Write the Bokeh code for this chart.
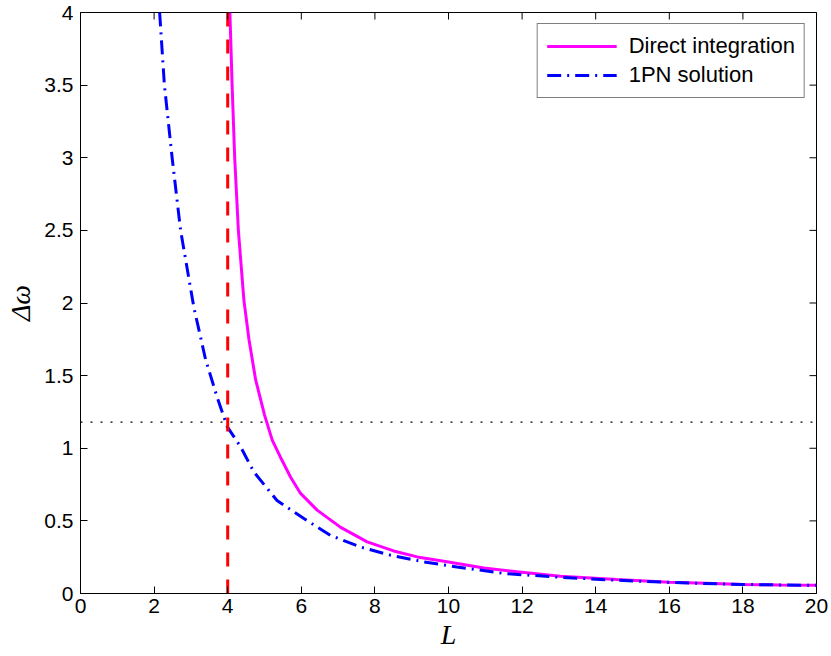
from math import pi
from bokeh.plotting import figure
from bokeh.models import Range1d, FixedTicker
from bokeh.embed import file_html
from bokeh.resources import INLINE

# Direct integration (magenta)
L_direct = [4.06, 4.12, 4.19, 4.29, 4.44, 4.58, 4.76, 5.0, 5.21, 5.43, 5.71, 5.98,
            6.43, 7.07, 7.79, 8.51, 9.15, 9.96, 10.96, 11.87, 13.04, 14.58, 16.0,
            17.0, 18.0, 19.0, 20.0]
dw_direct = [4.0, 3.5, 3.0, 2.5, 2.02, 1.745, 1.47, 1.23, 1.056, 0.94, 0.80, 0.689,
             0.574, 0.455, 0.355, 0.293, 0.252, 0.218, 0.176, 0.149, 0.119, 0.096, 0.078,
             0.070, 0.062, 0.058, 0.057]

# 1PN solution (blue dash-dot)
L_1pn = [2.15, 2.28, 2.49, 2.72, 3.08, 3.40, 3.71, 3.99, 4.35, 4.71, 5.34, 6.07, 6.79,
         7.61, 8.42, 9.33, 10.23, 11.5, 13.0, 14.5, 16.0, 18.0, 20.0]
dw_1pn = [4.0, 3.5, 3.0, 2.5, 1.97, 1.61, 1.354, 1.147, 1.01, 0.837, 0.64, 0.516, 0.40,
          0.32, 0.264, 0.218, 0.183, 0.138, 0.112, 0.092, 0.076, 0.062, 0.056]

L_crit = 4.0
dw_crit = 1.18

x_ticks = [0, 2, 4, 6, 8, 10, 12, 14, 16, 18, 20]
y_ticks = [0, 0.5, 1, 1.5, 2, 2.5, 3, 3.5, 4]
y_tick_labels = ["0", "0.5", "1", "1.5", "2", "2.5", "3", "3.5", "4"]

p = figure(width=831, height=656, output_backend="svg", toolbar_location=None,
           x_range=Range1d(x_ticks[0], x_ticks[-1]), y_range=Range1d(y_ticks[0], y_ticks[-1]),
           min_border_left=80, min_border_right=15, min_border_top=12, min_border_bottom=63)
p.background_fill_color = "white"
p.border_fill_color = "white"
p.grid.visible = False
p.outline_line_color = "black"
p.outline_line_width = 1

p.line(L_direct, dw_direct, line_color="#ff00ff", line_width=3, legend_label="Direct integration")
p.line(L_1pn, dw_1pn, line_color="#0000ff", line_width=3, line_dash="14 6 2 6",
       legend_label="1PN solution")
p.line([L_crit, L_crit], [y_ticks[0], y_ticks[-1]], line_color="#ff0000", line_width=3,
       line_dash="14 13")
p.line([x_ticks[0], x_ticks[-1]], [dw_crit, dw_crit], line_color="black", line_width=1.3,
       line_dash="2 8")

# mirrored inward ticks on the top and right edges (clipped to the frame)
p.scatter(x_ticks, [y_ticks[-1]] * len(x_ticks), marker="dash", size=14, angle=pi / 2,
          line_color="black", line_width=1)
p.scatter([x_ticks[-1]] * len(y_ticks), y_ticks, marker="dash", size=14,
          line_color="black", line_width=1)

p.xaxis.ticker = FixedTicker(ticks=x_ticks)
p.yaxis.ticker = FixedTicker(ticks=y_ticks)
p.yaxis.major_label_overrides = {t: s for t, s in zip(y_ticks, y_tick_labels)}

for ax in p.xaxis + p.yaxis:
    ax.axis_line_color = "black"
    ax.major_tick_line_color = "black"
    ax.major_tick_in = 7
    ax.major_tick_out = 0
    ax.minor_tick_in = 0
    ax.minor_tick_out = 0
    ax.major_label_text_font = "Liberation Sans"
    ax.major_label_text_font_size = "21px"
    ax.major_label_text_color = "black"
    ax.axis_label_text_font = "Liberation Serif"
    ax.axis_label_text_font_style = "italic"
    ax.axis_label_text_font_size = "28px"
    ax.axis_label_text_color = "black"
p.xaxis.major_label_standoff = 5
p.yaxis.major_label_standoff = 7
p.xaxis.axis_label = "L"
p.xaxis.axis_label_standoff = 3
p.yaxis.axis_label = "Δω"
p.yaxis.axis_label_standoff = 5

lg = p.legend[0]
lg.location = "top_right"
lg.margin = 11
lg.padding = 9
lg.spacing = 3
lg.glyph_width = 70
lg.glyph_height = 20
lg.label_height = 20
lg.label_standoff = 12
lg.label_text_font = "Liberation Sans"
lg.label_text_font_size = "22px"
lg.label_text_color = "black"
lg.border_line_color = "black"
lg.border_line_width = 1
lg.background_fill_color = "white"
lg.background_fill_alpha = 1

open("out.html", "w").write(file_html(p, INLINE))
